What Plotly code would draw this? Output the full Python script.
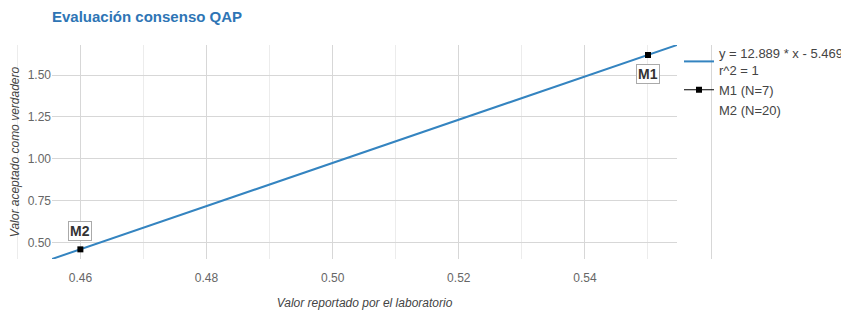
import plotly.graph_objects as go

# ---- data ----
fit_x = [0.4555, 0.5546]
fit_y = [0.4024, 1.6797]
fit_name = "y = 12.889 * x - 5.469<br>r^2 = 1"

pt_x = [0.55, 0.46]
pt_y = [1.62, 0.46]
pt_labels = ["M1", "M2"]
pt_names = ["M1 (N=7)", "M2 (N=20)"]
pt_shift = [-19, 18]

title_text = "Evaluación consenso QAP"
x_title = "Valor reportado por el laboratorio"
y_title = "Valor aceptado como verdadero"

# ---- layout geometry (window pixels, page body has an 8px margin) ----
W, H = 849, 314
OFF = 8
wide_l, wide_r = 10 - OFF, 719 - OFF      # region covered by vertical gridlines
main_l, main_r = 52 - OFF, 677 - OFF      # main plotting area
top, bottom = 45 - OFF, 259 - OFF
ml, mr, mt, mb = wide_l, W - wide_r, top, H - bottom
plot_w = W - ml - mr
plot_h = H - mt - mb
dom = [(main_l - ml) / plot_w, (main_r - ml) / plot_w]
s = (fit_x[1] - fit_x[0]) / (main_r - main_l)
wide_range = [fit_x[0] - (main_l - wide_l) * s, fit_x[1] + (wide_r - main_r) * s]

font_fam = "Liberation Sans, Arial, sans-serif"
blue = "rgb(52,132,192)"
grid_major = "rgb(215,215,215)"
grid_minor = "rgb(236,236,236)"

fig = go.Figure()

# invisible carrier for the wide grid subplot
fig.add_trace(go.Scatter(x=fit_x, y=fit_y, mode="lines", line=dict(width=0, color="rgba(0,0,0,0)"),
                         showlegend=False, hoverinfo="skip", xaxis="x", yaxis="y"))

# regression line
fig.add_trace(go.Scatter(x=fit_x, y=fit_y, mode="lines", name=fit_name,
                         line=dict(color=blue, width=2),
                         xaxis="x2", yaxis="y2"))
# M1
fig.add_trace(go.Scatter(x=[pt_x[0]], y=[pt_y[0]], mode="lines+markers", name=pt_names[0],
                         line=dict(color="black", width=1),
                         marker=dict(symbol="square", size=6, color="black"),
                         xaxis="x2", yaxis="y2"))
# M2 (legend entry without symbol)
fig.add_trace(go.Scatter(x=[pt_x[1]], y=[pt_y[1]], mode="markers", name=pt_names[1],
                         marker=dict(symbol="square", size=6, color="rgba(0,0,0,0)",
                                     line=dict(width=0)),
                         xaxis="x2", yaxis="y2"))
fig.add_trace(go.Scatter(x=[pt_x[1]], y=[pt_y[1]], mode="markers", showlegend=False,
                         marker=dict(symbol="square", size=6, color="black"),
                         xaxis="x2", yaxis="y2"))

for xv, yv, lab, sh in zip(pt_x, pt_y, pt_labels, pt_shift):
    fig.add_annotation(x=xv, y=yv, xref="x2", yref="y2", text="<b>" + lab + "</b>",
                       showarrow=False, yshift=sh,
                       font=dict(size=14, color="#333", family=font_fam),
                       bordercolor="#aaa", borderwidth=1, borderpad=1, bgcolor="white")

fig.update_layout(
    width=W, height=H,
    margin=dict(l=ml, r=mr, t=mt, b=mb, autoexpand=False),
    paper_bgcolor="white", plot_bgcolor="rgba(0,0,0,0)",
    font=dict(family=font_fam, color="#444"),
    title=dict(text="<b>" + title_text + "</b>", x=(52 - OFF) / W, xref="container",
               xanchor="left", y=1 - (17 - OFF) / H, yref="container", yanchor="middle",
               font=dict(size=15, color="rgb(46,117,181)", family=font_fam)),
    # wide axis: only vertical gridlines spanning the wider region
    xaxis=dict(domain=[0, 1], range=wide_range, anchor="y", showticklabels=False,
               showgrid=True, gridcolor=grid_major, gridwidth=1, dtick=0.02, tick0=0,
               minor=dict(dtick=0.01, showgrid=True, gridcolor=grid_minor),
               zeroline=False, showline=False, ticks=""),
    yaxis=dict(domain=[0, 1], range=fit_y, anchor="x", showticklabels=False, showgrid=False,
               zeroline=False, showline=False, ticks=""),
    # main axes
    xaxis2=dict(domain=dom, range=fit_x, anchor="y2", showgrid=False, zeroline=False,
                showline=False, ticks="outside", ticklen=8, tickcolor="rgba(0,0,0,0)",
                dtick=0.02, tick0=0, tickformat=".2f",
                tickfont=dict(size=12, color="#666"),
                title=dict(text=x_title, standoff=14,
                           font=dict(size=12, color="#444", style="italic")),
                automargin=False),
    yaxis2=dict(domain=[0, 1], range=fit_y, anchor="x2", showgrid=True,
                gridcolor=grid_major, zeroline=False, showline=False, ticks="",
                dtick=0.25, tick0=0, tickformat=".2f",
                tickfont=dict(size=12, color="#666"),
                title=dict(text=y_title, standoff=6,
                           font=dict(size=12, color="#444", style="italic")),
                automargin=False),
    legend=dict(xref="container", x=(690 - OFF - 11) / W, xanchor="left",
                yref="container", y=1 - (38 - OFF) / H, yanchor="top",
                bgcolor="rgba(0,0,0,0)", font=dict(size=13, color="#444"),
                tracegroupgap=0),
    showlegend=True,
)

fig.write_html("out.html")
